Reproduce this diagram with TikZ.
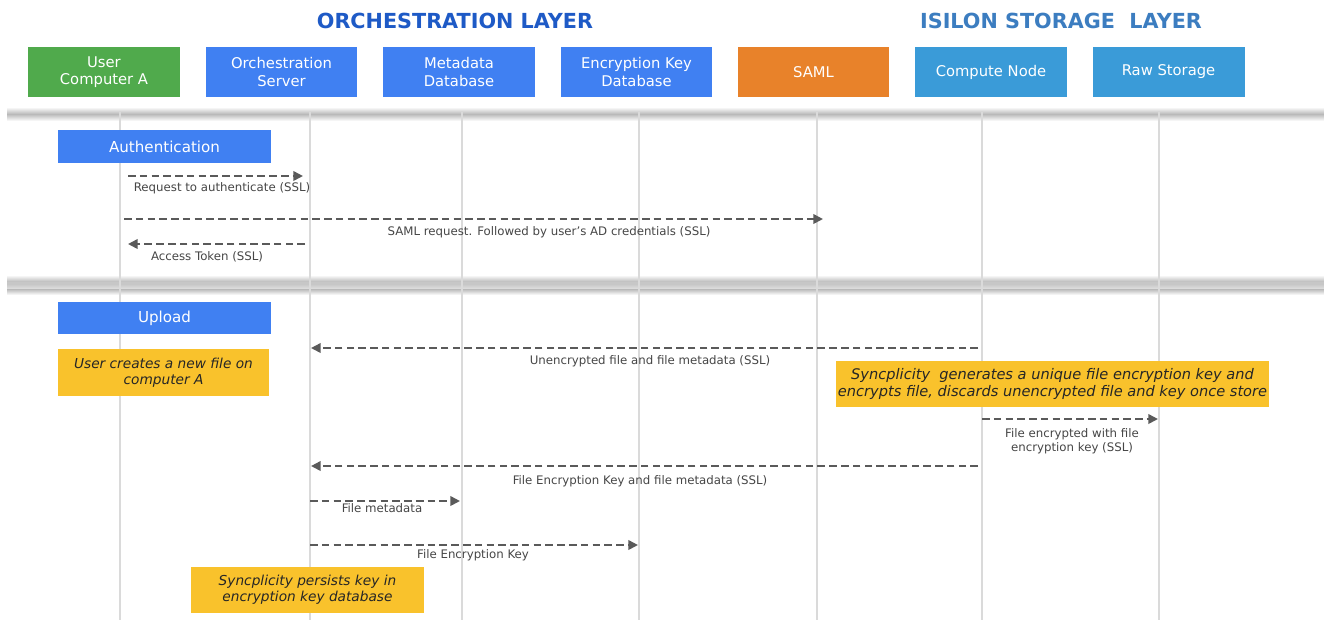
\documentclass[tikz,border=0pt]{standalone}
\usepackage{fontspec}
\setmainfont{DejaVu Sans}
\usetikzlibrary{arrows.meta}
\definecolor{cgreen}{RGB}{80,170,76}
\definecolor{cblue}{RGB}{64,128,242}
\definecolor{corange}{RGB}{232,130,42}
\definecolor{clblue}{RGB}{58,155,216}
\definecolor{cyellow}{RGB}{249,194,44}
\definecolor{ctitle}{RGB}{30,90,198}
\definecolor{ctitleb}{RGB}{60,125,192}
\definecolor{carrow}{RGB}{90,90,90}
\definecolor{clabel}{RGB}{70,70,70}
\definecolor{clife}{RGB}{218,218,218}
\definecolor{cband}{RGB}{185,185,185}
\begin{document}
\begin{tikzpicture}[x=0.02cm,y=-0.02cm,
 hdr/.style={minimum width=3.04cm, minimum height=1cm, text=white, font=\fontsize{8.4}{9.8}\selectfont, align=center, inner sep=0pt},
 sect/.style={fill=cblue, minimum width=4.26cm, minimum height=0.66cm, text=white, font=\fontsize{8.6}{10}\selectfont, inner sep=0pt},
 note/.style={fill=cyellow, text=black!85, font=\fontsize{7.8}{9.2}\selectfont\itshape, align=center, inner sep=0pt, minimum height=0.93cm},
 msg/.style={draw=carrow, line width=1.2pt, dash pattern=on 4.3pt off 2.4pt, -{Triangle[length=5.5pt,width=5.4pt]}},
 lbl/.style={text=clabel, font=\fontsize{6.7}{8.2}\selectfont, inner sep=0pt, align=center},
 life/.style={draw=clife, line width=0.9pt},
 ttl/.style={font=\fontsize{11.8}{13}\selectfont\bfseries}]

\fill[white] (0,0) rectangle (1324,620);
\useasboundingbox (0,0) rectangle (1324,620);

% layer titles
\node[ttl, text=ctitle] (t1) at (455,21) {ORCHESTRATION LAYER};
\node[ttl, text=ctitleb] (t2) at (1061,21) {ISILON STORAGE\ \ LAYER};

% header boxes
\node[hdr, fill=cgreen] (hU) at (104,72) {User\\Computer A};
\node[hdr, fill=cblue] (hO) at (281.5,72) {Orchestration\\Server};
\node[hdr, fill=cblue] (hM) at (459,72) {Metadata\\Database};
\node[hdr, fill=cblue] (hE) at (636.5,72) {Encryption Key\\Database};
\node[hdr, fill=corange] (hS) at (813.5,72) {SAML};
\node[hdr, fill=clblue] (hC) at (991,72) {Compute Node};
\node[hdr, fill=clblue] (hR) at (1168.5,72) {Raw Storage};

% separator bands
\shade[top color=white, bottom color=white, middle color=cband] (7,107) rectangle (1324,121);
\shade[top color=white, bottom color=cband] (7,275) rectangle (1324,282);
\fill[black!22] (7,282) rectangle (1324,284);
\shade[top color=black!22, bottom color=black!12] (7,284) rectangle (1324,289);
\shade[top color=cband, bottom color=white] (7,289) rectangle (1324,295);

% lifelines
\foreach \n/\x in {U/120, O/310, M/462, E/639, S/817, C/982, R/1159} {
  \coordinate (top\n) at (\x,112);
  \coordinate (bot\n) at (\x,620);
  \draw[life] (top\n) -- (bot\n);
}

% section headers
\node[sect] (auth) at (164.5,146.5) {Authentication};
\node[sect, minimum height=0.64cm] (upl) at (164.5,318) {Upload};

% authentication messages
\coordinate (a1s) at (128,176); \coordinate (a1e) at (303,176);
\draw[msg] (a1s) -- (a1e);
\node[lbl] (l1) at (222,188) {Request to authenticate (SSL)};

\coordinate (a2s) at (124,219); \coordinate (a2e) at (823,219);
\draw[msg] (a2s) -- (a2e);
\node[lbl] (l2) at (549,232) {SAML request. Followed by user's AD credentials (SSL)};

\coordinate (a3s) at (305,244); \coordinate (a3e) at (128,244);
\draw[msg] (a3s) -- (a3e);
\node[lbl] (l3) at (207,257) {Access Token (SSL)};

% upload
\node[note, minimum width=4.22cm] (n1) at (163.5,372.5) {User creates a new file on\\computer A};

\coordinate (a4s) at (978,348); \coordinate (a4e) at (311,348);
\draw[msg] (a4s) -- (a4e);
\node[lbl] (l4) at (650,361) {Unencrypted file and file metadata (SSL)};

\node[note, minimum width=8.66cm, font=\fontsize{8.3}{9.6}\selectfont\itshape] (n2) at (1052.5,384) {Syncplicity\ \ generates a unique file encryption key and\\encrypts file, discards unencrypted file and key once store};

\coordinate (a5s) at (982,419); \coordinate (a5e) at (1158,419);
\draw[msg] (a5s) -- (a5e);
\node[lbl] (l5) at (1072,441) {File encrypted with file\\encryption key (SSL)};

\coordinate (a6s) at (978,466); \coordinate (a6e) at (311,466);
\draw[msg] (a6s) -- (a6e);
\node[lbl] (l6) at (640,481) {File Encryption Key and file metadata (SSL)};

\coordinate (a7s) at (310,501); \coordinate (a7e) at (460,501);
\draw[msg] (a7s) -- (a7e);
\node[lbl] (l7) at (382,508) {File metadata};

\coordinate (a8s) at (310,545); \coordinate (a8e) at (638,545);
\draw[msg] (a8s) -- (a8e);
\node[lbl] (l8) at (473,555) {File Encryption Key};

\node[note, minimum width=4.66cm] (n3) at (307.5,590) {Syncplicity persists key in\\encryption key database};

\end{tikzpicture}
\end{document}
